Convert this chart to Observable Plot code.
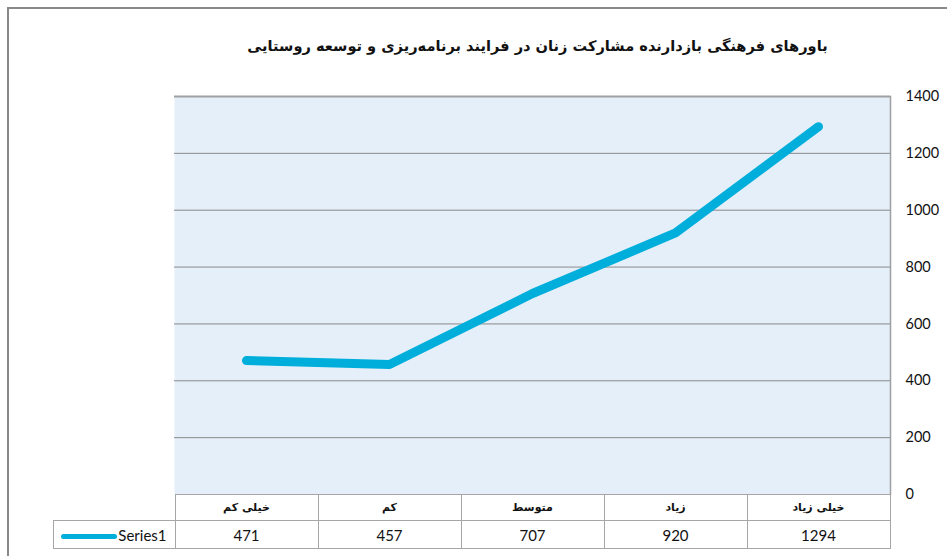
<!DOCTYPE html>
<html>
<head>
<meta charset="utf-8">
<script src="https://cdn.jsdelivr.net/npm/d3@7"></script>
<script src="https://cdn.jsdelivr.net/npm/@observablehq/plot@0.6"></script>
<style>
  html, body { margin: 0; padding: 0; background: #fff; }
  #wrap { position: relative; width: 947px; height: 556px; overflow: hidden; font-family: Lato, "Open Sans", sans-serif; }
  #border { position: absolute; left: 7px; top: 7px; right: -10px; bottom: -10px; border-left: 2px solid #888; border-top: 2px solid #888; pointer-events: none; }
  #title { position: absolute; top: 37px; left: 0; width: 1075px; text-align: center; direction: rtl;
           font-family: "DejaVu Sans", sans-serif; font-weight: bold; font-size: 14.6px; color: #111; }
  #plot { position: absolute; left: 0; top: 0; }
  table.dt { position: absolute; border-collapse: collapse; table-layout: fixed; }
  table.dt td { border: 1px solid #a6a6a6; padding: 0; text-align: center; color: #111; overflow: hidden; white-space: nowrap; }
  td.cat { font-family: "DejaVu Sans", sans-serif; font-weight: bold; font-size: 11px; direction: rtl; }
  td.val { font-family: Lato, sans-serif; font-size: 15px; }
  td.leg { font-family: Lato, sans-serif; font-size: 15px; text-align: right !important; padding-right: 8px !important; }
  td.blank { border: none !important; }
  .legline { display: inline-block; width: 56px; height: 5px; border-radius: 3px; background: #00aedb; vertical-align: middle; margin-right: 1px; }
</style>
</head>
<body>
<div id="wrap">
  <div id="title"></div>
</div>
<script>
const title = "باورهای فرهنگی بازدارنده مشارکت زنان در فرایند برنامه‌ریزی و توسعه روستایی";
const categories = ["خیلی کم", "کم", "متوسط", "زیاد", "خیلی زیاد"];
const seriesName = "Series1";
const values = [471, 457, 707, 920, 1294];
const yTicks = [0, 200, 400, 600, 800, 1000, 1200, 1400];

const data = categories.map((c, i) => ({cat: c, val: values[i]}));
const W = 947, H = 556;
const lineColor = "#00aedb";

const plot = Plot.plot({
  width: W,
  height: H,
  marginLeft: 174,
  marginRight: 57,
  marginTop: 96,
  marginBottom: 62,
  style: { fontFamily: "Lato, 'Open Sans', sans-serif", fontSize: "14.5px", color: "#111", background: "transparent" },
  x: { type: "point", domain: categories, padding: 0.5, axis: null },
  y: { domain: [0, 1400], ticks: yTicks, axis: "right", tickSize: 0, tickPadding: 15, label: null, tickFormat: d => String(d) },
  marks: [
    Plot.frame({ fill: "#e4eff9", stroke: null }),
    Plot.ruleY(yTicks.filter(t => t > 0 && t < 1400), { stroke: "#8a8a8a", strokeWidth: 1 }),
    Plot.ruleY([1400], { stroke: "#a0a0a0", strokeWidth: 2 }),
    Plot.frame({ anchor: "right", stroke: "#a0a0a0", strokeWidth: 1.5 }),
    Plot.line(data, { x: "cat", y: "val", stroke: lineColor, strokeWidth: 9, strokeLinecap: "round", strokeLinejoin: "round" })
  ]
});
plot.id = "plot";
const wrap = document.getElementById("wrap");
wrap.appendChild(plot);
document.getElementById("title").textContent = title;

// data table aligned with the x scale
const xs = plot.scale("x");
const ys = plot.scale("y");
const step = xs.apply(categories[1]) - xs.apply(categories[0]);
const left0 = xs.apply(categories[0]) - step / 2;
const rowTop = ys.apply(0);
const legW = 122;
const tbl = document.createElement("table");
tbl.className = "dt";
tbl.style.left = (left0 - legW) + "px";
tbl.style.top = rowTop + "px";
tbl.style.width = (legW + step * categories.length) + "px";
const cg = document.createElement("colgroup");
const c0 = document.createElement("col"); c0.style.width = legW + "px"; cg.appendChild(c0);
categories.forEach(() => { const c = document.createElement("col"); c.style.width = step + "px"; cg.appendChild(c); });
tbl.appendChild(cg);
const r1 = tbl.insertRow();
r1.style.height = "26px";
const b = r1.insertCell(); b.className = "blank";
categories.forEach(c => { const td = r1.insertCell(); td.className = "cat"; td.textContent = c; });
const r2 = tbl.insertRow();
r2.style.height = "28px";
const lg = r2.insertCell(); lg.className = "leg";
lg.innerHTML = '<span class="legline"></span>' + seriesName;
values.forEach(v => { const td = r2.insertCell(); td.className = "val"; td.textContent = v; });
wrap.appendChild(tbl);

const border = document.createElement("div");
border.id = "border";
wrap.appendChild(border);
</script>
</body>
</html>
